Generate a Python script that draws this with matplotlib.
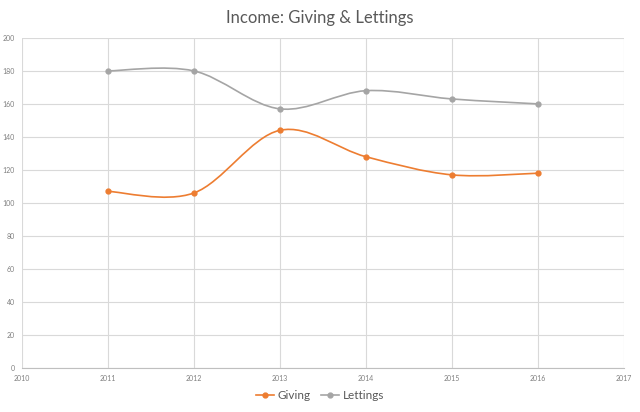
import numpy as np
import matplotlib.pyplot as plt
from matplotlib.path import Path
from matplotlib.patches import PathPatch
from matplotlib.lines import Line2D

plt.rcParams['font.family'] = ['Lato', 'DejaVu Sans']

years = [2011, 2012, 2013, 2014, 2015, 2016]
giving = [107, 106, 144, 128, 117, 118]
lettings = [180, 180, 157, 168, 163, 160]

orange = '#ED7D31'
grey = '#A5A5A5'


def smooth_path(x, y):
    # Excel-like smoothed line: cubic bezier segments through every point
    pts = np.column_stack((x, y)).astype(float)
    n = len(pts)
    verts = [pts[0]]
    codes = [Path.MOVETO]
    for i in range(n - 1):
        p0 = pts[i - 1] if i > 0 else pts[i]
        p1 = pts[i]
        p2 = pts[i + 1]
        p3 = pts[i + 2] if i + 2 < n else pts[i + 1]
        c1 = p1 + (p2 - p0) / 6.0
        c2 = p2 - (p3 - p1) / 6.0
        verts += [c1, c2, p2]
        codes += [Path.CURVE4] * 3
    return Path(verts, codes)


fig = plt.figure(figsize=(6.4, 4.12), dpi=100)
ax = fig.add_axes([0.034, 0.107, 0.941, 0.801])

for vals, col in [(giving, orange), (lettings, grey)]:
    patch = PathPatch(smooth_path(years, vals), facecolor='none', edgecolor=col,
                      linewidth=1.2, zorder=3)
    ax.add_patch(patch)
    ax.plot(years, vals, linestyle='none', marker='o', markersize=3.5,
            color=col, zorder=4)

ax.set_xlim(2010, 2017)
ax.set_ylim(0, 200)
ax.set_xticks(range(2010, 2018))
ax.set_yticks(range(0, 201, 20))
ax.grid(True, color='#d9d9d9', linewidth=0.8)
ax.set_axisbelow(True)
for side in ['top', 'right', 'left']:
    ax.spines[side].set_visible(False)
ax.spines['bottom'].set_color('#bfbfbf')
ax.spines['bottom'].set_linewidth(0.8)
ax.tick_params(length=0, labelsize=5, colors='#7f7f7f', pad=5)

fig.suptitle('Income: Giving & Lettings', y=0.975, fontsize=12, color='#595959')

handles = [Line2D([], [], color=orange, marker='o', markersize=3.5, linewidth=1.2),
           Line2D([], [], color=grey, marker='o', markersize=3.5, linewidth=1.2)]
fig.legend(handles, ['Giving', 'Lettings'], loc='center', bbox_to_anchor=(0.5, 0.04),
           ncol=2, frameon=False, fontsize=8.5, handlelength=1.5, handletextpad=0.3,
           columnspacing=0.9, labelcolor='#595959')

fig.savefig('out.png', dpi=100)
